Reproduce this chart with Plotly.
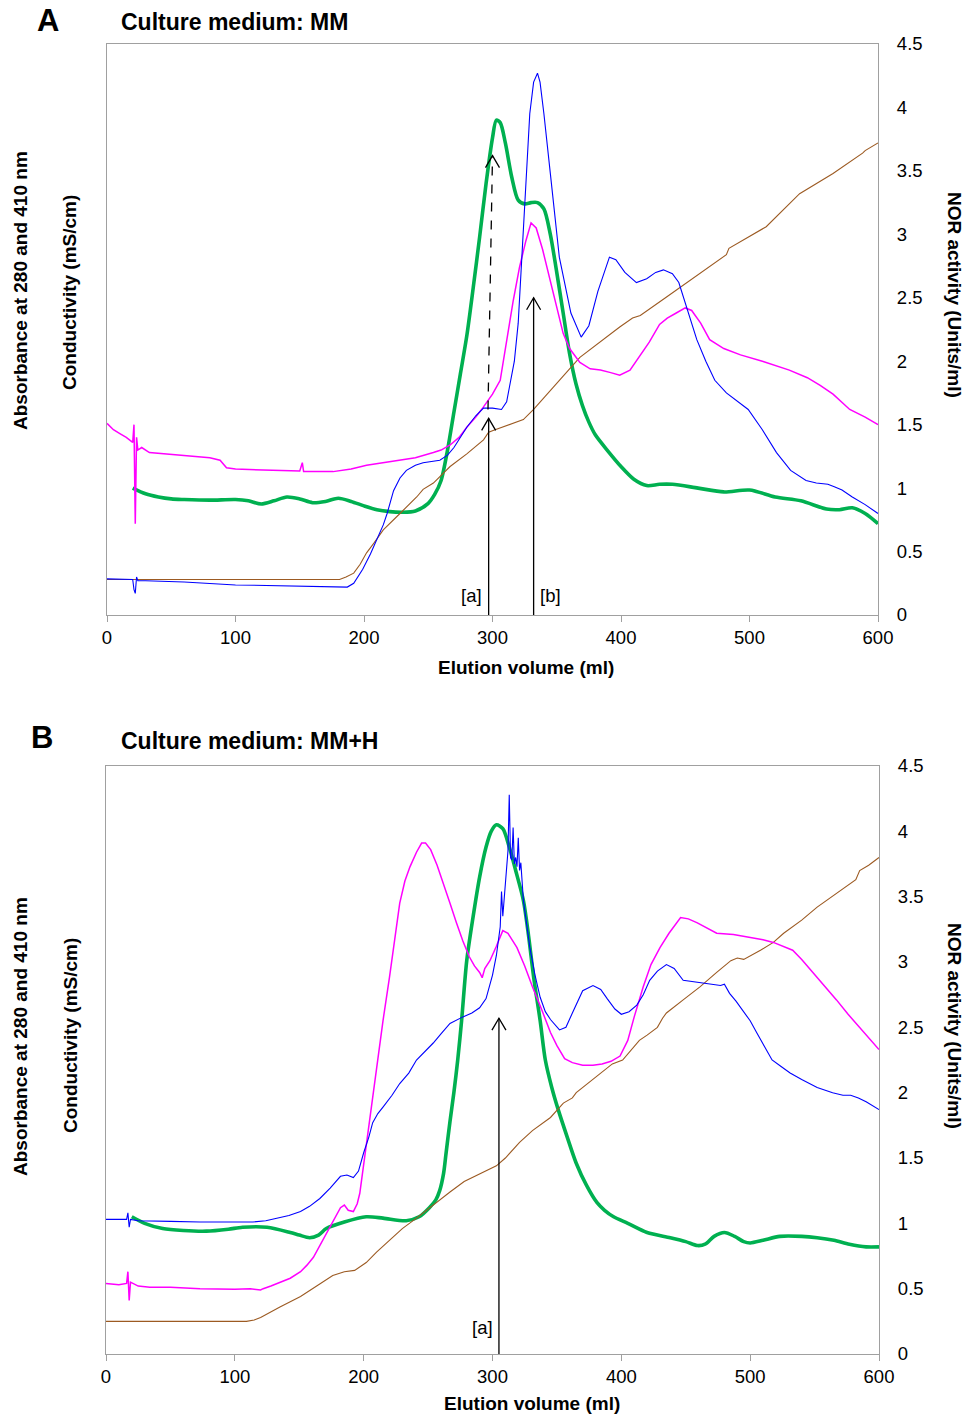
import plotly.graph_objects as go

W, H = 968, 1416
FONT = "Liberation Sans, Arial, sans-serif"

# ---------------- Panel A (Culture medium: MM) ----------------
# (elution volume ml, value on the NOR-activity scale)
nor_A = [(20, 1.0), (30, 0.955), (40, 0.93), (50, 0.915), (60, 0.91), (80, 0.905), (100, 0.91),
         (110, 0.90), (120, 0.875), (130, 0.90), (140, 0.93), (150, 0.915), (160, 0.885),
         (170, 0.895), (180, 0.92), (190, 0.895), (200, 0.86), (210, 0.83), (220, 0.815),
         (230, 0.81), (240, 0.82), (250, 0.88), (255, 0.95), (260, 1.06), (265, 1.30),
         (270, 1.60), (275, 1.90), (280, 2.20), (285, 2.58), (290, 2.98), (295, 3.40),
         (300, 3.76), (303, 3.90), (306, 3.88), (310, 3.72), (315, 3.45), (320, 3.27),
         (325, 3.24), (330, 3.25), (335, 3.25), (340, 3.20), (345, 3.00), (350, 2.70),
         (355, 2.38), (360, 2.06), (365, 1.82), (370, 1.65), (375, 1.52), (380, 1.42),
         (390, 1.29), (400, 1.17), (410, 1.07), (420, 1.02), (430, 1.03), (440, 1.03),
         (460, 1.00), (480, 0.97), (500, 0.985), (520, 0.93), (540, 0.90), (560, 0.835),
         (570, 0.83), (580, 0.845), (590, 0.80), (600, 0.72)]

a280_A = [(0, 0.285), (10, 0.28), (20, 0.28), (21, 0.20), (22, 0.17), (23, 0.30), (24, 0.27),
          (30, 0.27), (60, 0.26), (100, 0.237), (150, 0.23), (187, 0.22), (192, 0.25),
          (199, 0.36), (205, 0.48), (210, 0.59), (215, 0.71), (218, 0.80), (223, 0.98),
          (228, 1.08), (233, 1.14), (240, 1.18), (246, 1.20), (259, 1.22), (265, 1.26),
          (270, 1.32), (275, 1.40), (280, 1.48), (287, 1.57), (293, 1.63), (300, 1.63),
          (307, 1.62), (311, 1.68), (314, 1.85), (317, 2.0), (320, 2.3), (325, 3.22),
          (329, 3.95), (332, 4.2), (335, 4.27), (337, 4.2), (340, 3.95), (345, 3.48),
          (352, 2.82), (361, 2.38), (369, 2.19), (375, 2.28), (382, 2.55), (391, 2.82),
          (396, 2.80), (403, 2.70), (412, 2.62), (420, 2.65), (427, 2.70), (433, 2.72),
          (440, 2.69), (445, 2.62), (451, 2.43), (459, 2.17), (466, 2.0), (473, 1.85),
          (482, 1.75), (490, 1.69), (499, 1.62), (510, 1.46), (521, 1.28), (532, 1.14),
          (544, 1.06), (552, 1.04), (561, 1.03), (566, 1.01), (572, 0.985), (580, 0.93),
          (590, 0.87), (600, 0.80)]

a410_A = [(0, 1.51), (5, 1.46), (10, 1.43), (15, 1.40), (20, 1.36), (21, 1.50), (22, 0.72),
          (23, 1.40), (24, 1.30), (27, 1.32), (33, 1.28), (45, 1.27), (59, 1.26), (70, 1.25),
          (80, 1.24), (88, 1.22), (93, 1.16), (100, 1.15), (124, 1.14), (150, 1.135),
          (152, 1.20), (153, 1.13), (176, 1.13), (190, 1.15), (202, 1.18), (215, 1.20),
          (228, 1.22), (240, 1.24), (254, 1.28), (260, 1.30), (267, 1.34), (274, 1.40),
          (280, 1.48), (287, 1.56), (293, 1.64), (300, 1.74), (306, 1.85), (311, 2.17),
          (316, 2.47), (321, 2.74), (326, 2.95), (330, 3.09), (334, 3.05), (339, 2.88),
          (343, 2.72), (347, 2.56), (351, 2.38), (355, 2.22), (360, 2.10), (368, 1.99),
          (376, 1.94), (384, 1.93), (392, 1.91), (399, 1.89), (407, 1.93), (415, 2.05),
          (422, 2.15), (430, 2.29), (436, 2.34), (443, 2.38), (450, 2.42), (455, 2.40),
          (462, 2.30), (469, 2.17), (480, 2.10), (493, 2.05), (510, 2.00), (531, 1.93),
          (545, 1.87), (555, 1.81), (565, 1.74), (578, 1.62), (590, 1.56), (600, 1.50)]

cond_A = [(0, 0.28), (100, 0.28), (181, 0.28), (186, 0.30), (192, 0.33), (197, 0.40),
          (202, 0.49), (208, 0.57), (215, 0.67), (228, 0.80), (241, 0.93), (246, 0.99),
          (254, 1.04), (267, 1.17), (280, 1.27), (293, 1.38), (297, 1.44), (302, 1.46),
          (310, 1.49), (324, 1.54), (332, 1.62), (341, 1.72), (352, 1.85), (360, 1.94),
          (368, 2.03), (386, 2.17), (399, 2.27), (409, 2.34), (415, 2.36), (436, 2.51),
          (461, 2.69), (482, 2.84), (484, 2.89), (513, 3.06), (539, 3.32), (565, 3.48),
          (588, 3.64), (590, 3.66), (600, 3.72)]

# arrows: (x, tip y, label, label x, label y)
arrows_A = [(297, 1.55, "[a]", 284, 0.15), (332, 2.50, "[b]", 345.5, 0.15)]
dashed_A = [(296.5, 1.62), (300, 3.62)]

# ---------------- Panel B (Culture medium: MM+H) ----------------
nor_B = [(20, 1.05), (30, 1.00), (44, 0.96), (60, 0.945), (78, 0.94), (95, 0.955), (106, 0.97),
         (125, 0.97), (143, 0.93), (150, 0.91), (158, 0.89), (165, 0.91), (171, 0.96),
         (185, 1.01), (202, 1.05), (215, 1.04), (233, 1.02), (243, 1.05), (251, 1.12),
         (256, 1.18), (259, 1.25), (262, 1.38), (264, 1.54), (267, 1.78), (270, 2.00),
         (273, 2.25), (276, 2.55), (280, 3.01), (285, 3.35), (290, 3.65), (295, 3.88),
         (299, 4.00), (303, 4.05), (308, 4.02), (313, 3.88), (318, 3.70), (324, 3.47),
         (328, 3.20), (332, 2.88), (337, 2.55), (341, 2.25), (346, 2.04), (351, 1.87),
         (358, 1.66), (365, 1.46), (373, 1.29), (381, 1.16), (387, 1.10), (394, 1.05),
         (405, 1.00), (420, 0.93), (438, 0.89), (450, 0.86), (459, 0.83), (465, 0.84),
         (472, 0.90), (480, 0.93), (488, 0.90), (495, 0.86), (500, 0.85), (510, 0.87),
         (523, 0.90), (540, 0.90), (552, 0.89), (565, 0.87), (577, 0.84), (590, 0.82),
         (600, 0.82)]

a280_B = [(0, 1.03), (10, 1.03), (16, 1.03), (17, 1.08), (18, 0.97), (19, 1.03), (25, 1.02),
          (50, 1.015), (73, 1.01), (100, 1.01), (114, 1.01), (124, 1.02), (132, 1.04),
          (142, 1.06), (151, 1.09), (158, 1.13), (166, 1.19), (174, 1.27), (182, 1.36),
          (187, 1.37), (192, 1.35), (196, 1.40), (200, 1.54), (204, 1.66), (207, 1.77),
          (211, 1.84), (215, 1.89), (222, 1.98), (228, 2.07), (235, 2.15), (241, 2.25),
          (248, 2.32), (254, 2.38), (260, 2.45), (267, 2.53), (277, 2.58), (284, 2.61),
          (290, 2.65), (295, 2.72), (300, 2.90), (303, 3.05), (306, 3.27), (307, 3.54),
          (308, 3.35), (310, 3.60), (311, 3.70), (312, 3.85), (313, 4.28), (314, 3.80),
          (315, 3.78), (316, 4.03), (317, 3.75), (318, 3.80), (319, 3.73), (320, 3.95),
          (321, 3.70), (322, 3.76), (324, 3.47), (327, 3.25), (329, 3.11), (333, 2.90),
          (337, 2.73), (341, 2.62), (345, 2.56), (352, 2.48), (357, 2.50), (362, 2.61),
          (366, 2.70), (370, 2.78), (378, 2.82), (384, 2.79), (389, 2.72), (395, 2.64),
          (400, 2.60), (406, 2.62), (412, 2.67), (417, 2.75), (422, 2.86), (428, 2.93),
          (435, 2.98), (441, 2.95), (448, 2.86), (455, 2.85), (461, 2.84), (468, 2.83),
          (477, 2.82), (480, 2.83), (484, 2.76), (489, 2.70), (494, 2.63), (500, 2.55),
          (505, 2.46), (511, 2.35), (517, 2.25), (524, 2.20), (531, 2.15), (540, 2.10),
          (552, 2.04), (564, 2.00), (572, 1.98), (578, 1.98), (584, 1.96), (590, 1.93),
          (595, 1.90), (600, 1.87)]

a410_B = [(0, 0.54), (10, 0.53), (16, 0.54), (17, 0.63), (18, 0.41), (19, 0.55), (25, 0.52),
          (34, 0.51), (50, 0.51), (73, 0.50), (100, 0.495), (112, 0.50), (120, 0.49),
          (122, 0.50), (128, 0.52), (135, 0.55), (143, 0.58), (151, 0.63), (156, 0.68),
          (161, 0.74), (166, 0.83), (171, 0.92), (176, 1.02), (182, 1.12), (185, 1.14),
          (188, 1.10), (192, 1.09), (195, 1.15), (197, 1.23), (200, 1.45), (202, 1.61),
          (205, 1.82), (207, 2.00), (211, 2.25), (215, 2.55), (220, 2.88), (224, 3.18),
          (228, 3.45), (232, 3.62), (236, 3.73), (241, 3.84), (245, 3.91), (248, 3.91),
          (252, 3.86), (257, 3.74), (262, 3.60), (267, 3.45), (272, 3.30), (277, 3.16),
          (282, 3.04), (286, 2.97), (290, 2.92), (292, 2.88), (294, 2.95), (298, 3.01),
          (303, 3.12), (308, 3.24), (312, 3.22), (319, 3.11), (325, 2.97), (331, 2.81),
          (338, 2.64), (345, 2.46), (350, 2.36), (356, 2.26), (362, 2.23), (370, 2.21),
          (378, 2.21), (385, 2.22), (392, 2.24), (399, 2.28), (405, 2.40), (410, 2.58),
          (417, 2.81), (423, 2.98), (430, 3.11), (437, 3.22), (446, 3.34), (452, 3.33),
          (459, 3.30), (466, 3.26), (474, 3.22), (487, 3.21), (500, 3.19), (510, 3.17),
          (518, 3.15), (526, 3.12), (533, 3.09), (540, 3.02), (547, 2.94), (557, 2.83),
          (567, 2.71), (576, 2.60), (585, 2.50), (593, 2.41), (600, 2.33)]

cond_B = [(0, 0.25), (109, 0.25), (115, 0.26), (120, 0.28), (135, 0.36), (151, 0.44),
          (165, 0.53), (176, 0.60), (185, 0.63), (193, 0.64), (202, 0.70), (210, 0.78),
          (220, 0.87), (230, 0.96), (241, 1.04), (255, 1.15), (267, 1.24), (278, 1.32),
          (288, 1.37), (303, 1.44), (310, 1.50), (321, 1.62), (331, 1.71), (345, 1.81),
          (355, 1.92), (362, 1.96), (365, 2.00), (375, 2.08), (386, 2.17), (393, 2.22),
          (401, 2.25), (408, 2.33), (414, 2.40), (420, 2.44), (428, 2.50), (432, 2.57),
          (435, 2.61), (448, 2.71), (461, 2.81), (474, 2.92), (485, 3.01), (490, 3.03),
          (495, 3.02), (508, 3.09), (518, 3.15), (526, 3.22), (540, 3.32), (552, 3.42),
          (565, 3.51), (577, 3.60), (582, 3.63), (585, 3.70), (592, 3.74), (600, 3.80)]

arrows_B = [(305, 2.57, "[a]", 292, 0.20)]

x_ticks = [0, 100, 200, 300, 400, 500, 600]
y_ticks = [0, 0.5, 1, 1.5, 2, 2.5, 3, 3.5, 4, 4.5]

C_BLUE = "#0000FF"
C_MAG = "#FF00FF"
C_BROWN = "#9C5A22"
C_GREEN = "#00B050"
AXC = "#A0A0A0"


def xs(p):
    return [a for a, _ in p]


def ys(p):
    return [b for _, b in p]


fig = go.Figure()


def add_panel(xa, ya, nor, a280, a410, cond):
    fig.add_trace(go.Scatter(x=xs(nor), y=ys(nor), mode="lines", xaxis=xa, yaxis=ya,
                             line=dict(color=C_GREEN, width=3.6, shape="spline", smoothing=0.8),
                             showlegend=False, hoverinfo="skip"))
    fig.add_trace(go.Scatter(x=xs(cond), y=ys(cond), mode="lines", xaxis=xa, yaxis=ya,
                             line=dict(color=C_BROWN, width=1.1),
                             showlegend=False, hoverinfo="skip"))
    fig.add_trace(go.Scatter(x=xs(a410), y=ys(a410), mode="lines", xaxis=xa, yaxis=ya,
                             line=dict(color=C_MAG, width=1.5),
                             showlegend=False, hoverinfo="skip"))
    fig.add_trace(go.Scatter(x=xs(a280), y=ys(a280), mode="lines", xaxis=xa, yaxis=ya,
                             line=dict(color=C_BLUE, width=1.1),
                             showlegend=False, hoverinfo="skip"))


add_panel("x", "y", nor_A, a280_A, a410_A, cond_A)
add_panel("x2", "y2", nor_B, a280_B, a410_B, cond_B)

shapes = []
annotations = []
CHEVRON = "M-7,-12 L0,0 L7,-12"


def add_arrows(arrs, xr, yr):
    for x, tip, lab, lx, ly in arrs:
        shapes.append(dict(type="line", xref=xr, yref=yr, x0=x, x1=x, y0=0, y1=tip,
                           line=dict(color="black", width=1.3)))
        shapes.append(dict(type="path", xref=xr, yref=yr, xsizemode="pixel", ysizemode="pixel",
                           xanchor=x, yanchor=tip, path=CHEVRON,
                           line=dict(color="black", width=1.3)))
        annotations.append(dict(x=lx, y=ly, xref=xr, yref=yr, text=lab, showarrow=False,
                                font=dict(size=18.5, color="black", family=FONT),
                                xanchor="center", yanchor="middle"))


add_arrows(arrows_A, "x", "y")
add_arrows(arrows_B, "x2", "y2")
(dx0, dy0), (dx1, dy1) = dashed_A
shapes.append(dict(type="line", xref="x", yref="y", x0=dx0, y0=dy0, x1=dx1, y1=dy1,
                   line=dict(color="black", width=1.3, dash="dash")))
shapes.append(dict(type="path", xref="x", yref="y", xsizemode="pixel", ysizemode="pixel",
                   xanchor=dx1, yanchor=dy1, path=CHEVRON, line=dict(color="black", width=1.3)))


def paper_y(py):
    return 1 - py / H


def paper_x(px):
    return px / W


def txt(text, px, py, size, bold=True, angle=0, xanchor="center"):
    annotations.append(dict(x=paper_x(px), y=paper_y(py), xref="paper", yref="paper",
                            text=("<b>%s</b>" % text) if bold else text, showarrow=False,
                            textangle=angle, xanchor=xanchor, yanchor="middle",
                            font=dict(size=size, color="black", family=FONT)))


txt("A", 48, 20, 31)
txt("Culture medium: MM", 119, 22, 23, xanchor="left")
txt("B", 42, 737, 31)
txt("Culture medium: MM+H", 119, 741, 23, xanchor="left")
txt("Elution volume (ml)", 526, 668, 19)
txt("Elution volume (ml)", 532, 1403, 19)
txt("Absorbance at 280 and 410 nm", 20, 291, 19, angle=-90)
txt("Conductivity (mS/cm)", 70, 293, 19, angle=-90)
txt("Absorbance at 280 and 410 nm", 20, 1037, 19, angle=-90)
txt("Conductivity (mS/cm)", 70, 1036, 19, angle=-90)
txt("NOR activity (Units/ml)", 955, 295, 19, angle=90)
txt("NOR activity (Units/ml)", 955, 1026, 19, angle=90)

xaxis_common = dict(range=[0, 600], tickvals=x_ticks, showgrid=False, zeroline=False,
                    showline=True, linecolor=AXC, linewidth=1.3, mirror=True,
                    ticks="outside", ticklen=6, tickcolor=AXC, tickwidth=1.3, automargin=False,
                    tickfont=dict(size=18.5, color="black", family=FONT))
yaxis_common = dict(range=[0, 4.5], tickvals=y_ticks, side="right", showgrid=False,
                    zeroline=False, showline=True, linecolor=AXC, linewidth=1.3, mirror=True,
                    ticks="", ticklabelstandoff=14, automargin=False,
                    tickfont=dict(size=18.5, color="black", family=FONT))

fig.update_layout(
    width=W, height=H, margin=dict(l=0, r=0, t=0, b=0, autoexpand=False),
    paper_bgcolor="white", plot_bgcolor="white", showlegend=False,
    xaxis=dict(domain=[paper_x(107), paper_x(878)], anchor="y", **xaxis_common),
    yaxis=dict(domain=[paper_y(615), paper_y(44)], anchor="x", **yaxis_common),
    xaxis2=dict(domain=[paper_x(106), paper_x(879)], anchor="y2", **xaxis_common),
    yaxis2=dict(domain=[paper_y(1354), paper_y(766)], anchor="x2", **yaxis_common),
    shapes=shapes, annotations=annotations,
)

fig.write_html("out.html", config={"displayModeBar": False},
               post_script="document.body.style.margin='0px';")
